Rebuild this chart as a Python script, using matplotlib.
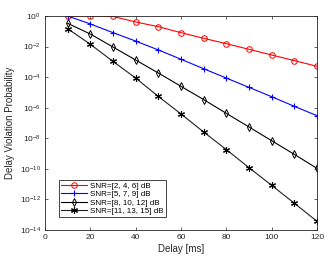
import numpy as np
import matplotlib.pyplot as plt

# delay axis [ms]
delay = [10, 20, 30, 40, 50, 60, 70, 80, 90, 100, 110, 120]

# log10 of delay violation probability
log_snr_2_4_6 = [0.0, 0.0, -0.03, -0.39, -0.70, -1.09, -1.46, -1.81, -2.18, -2.55, -2.92, -3.29]
log_snr_5_7_9 = [0.0, -0.52, -1.09, -1.64, -2.22, -2.83, -3.45, -4.06, -4.67, -5.28, -5.91, -6.52]
log_snr_8_10_12 = [-0.48, -1.18, -2.03, -2.88, -3.73, -4.60, -5.47, -6.37, -7.26, -8.16, -9.05, -9.97]
log_snr_11_13_15 = [-0.83, -1.85, -2.97, -4.06, -5.26, -6.41, -7.59, -8.74, -9.92, -11.08, -12.25, -13.43]

labels = ['SNR=[2, 4, 6] dB', 'SNR=[5, 7, 9] dB', 'SNR=[8, 10, 12] dB', 'SNR=[11, 13, 15] dB']

plt.rcParams['font.family'] = 'Liberation Sans'

fig = plt.figure(figsize=(3.35, 2.68), dpi=100)
ax = fig.add_axes([45 / 335, 1 - 230 / 268, (317 - 45) / 335, (230 - 16) / 268])

ax.semilogy(delay, 10 ** np.array(log_snr_2_4_6), color='red', lw=0.8, marker='o',
            ms=4, mfc='none', mew=0.7, label=labels[0])
ax.semilogy(delay, 10 ** np.array(log_snr_5_7_9), color='blue', lw=0.8, marker='+',
            ms=5, mew=0.8, label=labels[1])
ax.semilogy(delay, 10 ** np.array(log_snr_8_10_12), color='black', lw=0.8, marker='d',
            ms=4, mfc='none', mew=0.7, label=labels[2])
# MATLAB-style asterisk marker
ax.semilogy(delay, 10 ** np.array(log_snr_11_13_15), color='#202020', lw=0.8, marker=(6, 2, 0),
            ms=5, mec='black', mew=0.8, label=labels[3])

ax.set_xlim(0, 120)
ax.set_ylim(1e-14, 1)
ax.set_xticks(np.arange(0, 121, 20))
ax.set_yticks([10.0 ** k for k in range(-14, 1, 2)])
ax.minorticks_off()
ax.tick_params(direction='in', top=True, right=True, labelsize=6, length=2.5,
               width=0.5, colors='#262626', pad=3)
for s in ax.spines.values():
    s.set_linewidth(0.6)
    s.set_color('#262626')

ax.set_xlabel('Delay [ms]', fontsize=7, color='#262626', labelpad=2)
ax.set_ylabel('Delay Violation Probability', fontsize=7, color='#262626', labelpad=3)

leg = ax.legend(loc='lower left', bbox_to_anchor=(0.035, 0.04), fontsize=5.8,
                frameon=True, fancybox=False, edgecolor='#262626', framealpha=1,
                handlelength=3.2, borderpad=0.3, labelspacing=0.1, handletextpad=0.4)
leg.get_frame().set_linewidth(0.6)

fig.savefig('out.png', dpi=100)
